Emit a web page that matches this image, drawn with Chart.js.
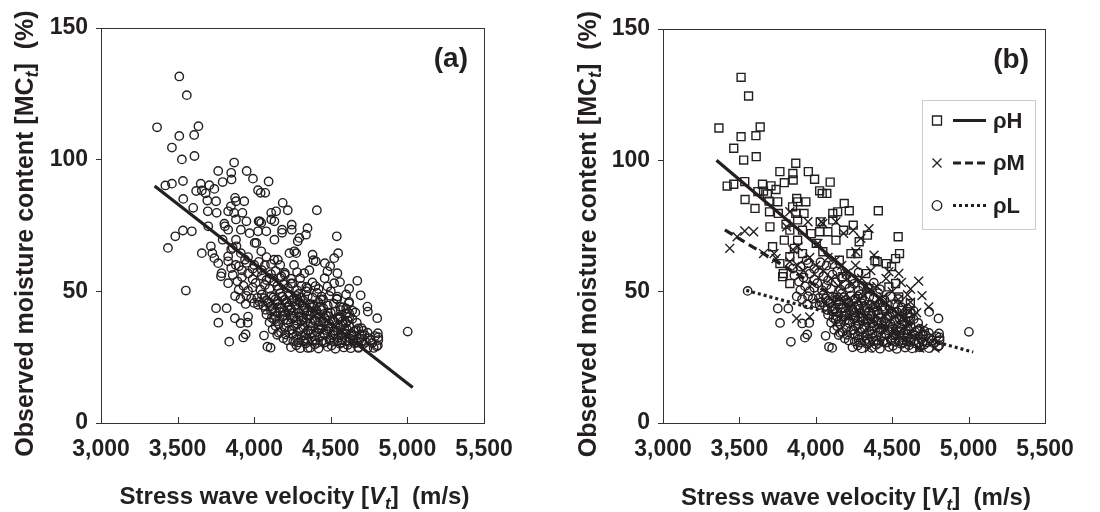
<!DOCTYPE html>
<html>
<head>
<meta charset="utf-8">
<script src="https://cdn.jsdelivr.net/npm/chart.js@4.4.0/dist/chart.umd.min.js"></script>
<style>
body { margin: 0; background: #fff; }
.panel { position: absolute; top: 0; }
</style>
</head>
<body>
<canvas id="chartA" class="panel" width="550" height="512" style="left:0px"></canvas>
<canvas id="chartB" class="panel" width="550" height="512" style="left:550px"></canvas>
<script>
var xTicks = [3000, 3500, 4000, 4500, 5000, 5500];
var yTicks = [0, 50, 100, 150];
var groupNames = ['ρH', 'ρM', 'ρL'];

// [stress wave velocity (m/s), moisture content (%)]
var rhoH = [
    [3511,131.6],[3560,124.5],[3366,112.3],[3511,109],[3608,109.4],[3636,112.7],[3463,104.6],[3528,100.1],
    [3610,101.4],[3420,90.2],[3463,90.9],[3535,91.9],[3537,85.1],[3602,81.7],[3621,88.1],[3651,90.9],
    [3658,88.3],[3683,87.2],[3707,90.3],[3694,84.5],[3740,88.9],[3765,95.7],[3794,91.5],[3850,95],
    [3852,92.5],[3869,98.9],[3951,95.7],[3992,92.8],[4025,88.4],[4042,87.4],[4072,87.4],[4094,91.7],
    [3751,84.2],[3697,80.4],[3755,79.8],[3700,74.7],[3717,67.1],[3765,60.7],[3787,56.9],[3830,53.1],
    [3783,55.7],[3875,85.5],[3881,84.2],[3935,84.2],[3848,82.3],[3869,79.8],[3923,79.8],[3805,75.7],
    [3830,73.4],[3881,77.3],[3913,73.4],[3881,69.6],[3794,69.6],[3913,64.5],[3860,66.5],[3830,63.3],
    [3970,72.1],[4003,68.4],[4029,76.6],[4025,72.8],[4079,72.8],[4111,77.3],[4111,79.8],[4143,80.4],
    [4186,83.6],[4219,80.8],[4132,69.6],[4182,73.4],[4245,75.3],[4284,69],[4338,71.5],[4409,80.8],
    [4387,61.8],[4402,61.4],[4461,60.7],[4496,59.5],[4539,70.9],[4548,64.5],[4522,62.6],[4522,53.1],
    [4543,48],[4619,45.5],[4619,41.7],[4046,65.2],[4154,62],[4230,64.5],[4274,64.5],[4177,55.7],
    [4327,56.9],[4348,51.2],[4478,51.8],[4435,46.8],[4565,42.9]
];
var rhoM = [
    [3437,66.5],[3485,70.9],[3535,73.1],[3593,72.8],[3658,64.5],[3727,64.5],[3740,62.6],[3830,61.4],
    [3809,74.7],[3830,80.4],[3884,67.1],[3949,76.6],[4036,76.6],[4046,76],[4014,68.4],[4132,76.6],
    [4182,72.2],[4245,73.4],[4295,70.3],[4348,74],[4262,65.2],[4381,63.9],[3874,39.8],[3960,40.4],
    [4478,57.6],[4543,56.9],[4673,54],[4695,48.5],[4739,44.2],[4620,51],[4600,48.8],[4560,53.5],
    [4000,60],[4050,58],[4080,63],[4100,55],[4130,62],[4150,52],[4170,60],[4180,48],
    [4200,57],[4220,44],[4240,53],[4260,60],[4280,47],[4300,55],[4320,40],[4340,50],
    [4350,28.5],[4360,58],[4380,45],[4400,52],[4420,37],[4440,48],[4460,55],[4480,42],
    [4500,50],[4520,35],[4540,47],[4560,40],[4580,44],[4600,38],[4620,46],[4640,33],
    [4660,42],[4680,28.5],[4700,36],[4780,28.5],[3880,60],[3920,58],[3960,63],[3850,66]
];
var rhoL = [
    [3554,50.3],[3751,43.6],[3820,43.6],[3766,38.1],[3837,30.9],[3911,37.9],[3957,38.1],[3929,32.5],
    [3944,33.7],[4064,33.2],[4086,29],[4107,28.6],[3899,50.6],[3949,48.3],[3944,45.2],[4025,44.9],
    [4742,42.3],[4803,39.8],[5002,34.7],[4807,34.1],[4807,29.5],
    [4240,28.8],[4275,29.5],[4300,28.4],[4335,30.2],[4365,28.6],[4395,29.8],[4420,28.3],[4455,30.5],
    [4480,28.9],[4505,29.4],[4530,28.2],[4560,30.1],[4585,28.7],[4610,29.6],[4630,28.4],[4655,30.3],
    [4680,28.8],[4710,29.9],[4740,28.5],[4770,30.4],[4800,29.1],[4810,31.5],
    [4255,31.0],[4290,30.6],[4320,31.3],[4350,30.8],[4380,31.2],[4410,30.4],[4445,31.1],[4470,30.7],
    [4495,31.4],[4520,30.9],[4545,31.2],[4570,30.6],[4595,31.0],[4620,30.8],[4645,31.3],[4670,30.5],
    [4700,31.1],[4730,30.7],[4760,31.5],
    [4150,33.5],[4190,32.2],[4215,31.4],[4250,33.8],[4280,31.9],[4310,33.1],[4340,32.0],[4370,33.9],
    [4400,31.6],[4430,32.8],[4460,33.6],[4490,31.8],[4520,33.2],[4550,32.4],[4575,31.5],[4600,33.7],
    [4625,32.1],[4650,33.3],[4690,31.9],[4720,33.4],[4750,32.2],[4790,33.0],[4810,32.6],
    [4160,34.3],[4205,33.6],[4245,35.4],[4275,33.2],[4305,35.6],[4335,34.0],[4365,35.3],[4395,33.4],
    [4425,35.5],[4455,34.1],[4485,35.7],[4515,33.5],[4545,35.0],[4575,34.2],[4605,35.6],[4635,33.8],
    [4665,35.2],[4700,33.6],
    [4120,35.5],[4140,36.8],[4175,34.6],[4200,36.1],[4230,35.2],[4260,36.9],[4290,34.8],[4320,36.3],
    [4350,35.1],[4380,36.7],[4410,34.5],[4440,36.0],[4470,35.3],[4500,36.6],[4530,34.9],[4560,36.2],
    [4590,35.4],[4620,36.8],[4650,34.7],[4680,35.9],[4710,35.0],[4740,34.3],
    [4100,38.2],[4130,39.3],[4160,37.6],[4190,39.1],[4220,38.0],[4250,39.6],[4280,37.4],[4310,38.8],
    [4340,39.7],[4370,37.9],[4400,39.0],[4430,38.3],[4460,39.8],[4490,37.7],[4520,38.6],[4550,39.4],
    [4580,37.5],[4610,38.9],[4640,39.5],[4670,38.1],
    [4115,40.0],[4150,38.6],[4185,40.5],[4215,39.2],[4245,40.8],[4275,38.9],[4305,40.3],[4335,38.4],
    [4365,40.9],[4395,38.7],[4425,40.2],[4455,38.5],[4485,40.6],[4515,39.1],[4545,40.1],[4575,38.6],
    [4620,40.3],
    [4080,41.2],[4110,42.5],[4140,40.6],[4170,42.1],[4200,41.0],[4230,42.8],[4260,40.4],[4290,41.8],
    [4320,42.6],[4350,40.9],[4380,42.2],[4410,41.3],[4440,42.9],[4470,40.7],[4500,41.9],[4530,42.4],
    [4560,40.5],[4600,41.6],[4640,42.7],
    [4075,43.0],[4105,44.2],[4135,42.2],[4165,43.8],[4195,42.6],[4225,44.6],[4255,42.1],[4285,43.5],
    [4315,44.4],[4345,42.3],[4375,44.0],[4405,42.8],[4435,44.3],
    [4060,44.5],[4090,45.7],[4120,43.6],[4150,45.2],[4180,44.0],[4210,45.9],[4240,43.4],[4270,44.8],
    [4300,45.6],[4330,43.9],[4360,45.1],[4390,44.3],[4420,45.8],[4450,43.7],[4480,44.6],[4520,45.3],
    [4560,44.1],[4600,43.5],
    [4035,46.0],[4065,47.4],[4095,45.8],[4125,47.7],[4155,46.3],[4185,47.9],[4215,45.7],[4245,46.6],
    [4275,48.3],[4305,47.6],
    [4020,47.5],[4050,48.8],[4080,46.6],[4110,48.2],[4140,47.0],[4170,49.3],[4200,46.8],[4230,48.5],
    [4260,47.3],[4290,49.0],[4320,46.5],[4350,48.1],[4380,47.7],[4410,49.4],[4450,46.9],[4490,48.3],
    [4540,47.2],
    [3990,51.5],[4010,53.2],[4040,50.6],[4070,52.4],[4100,51.0],[4130,53.6],[4160,50.8],[4190,52.7],
    [4220,51.3],[4250,53.0],[4280,50.4],[4310,52.1],[4340,51.7],[4380,53.4],[4420,50.9],
    [3920,55.4],[3960,56.8],[3990,54.6],[4020,57.2],[4050,55.9],[4080,54.3],[4110,56.5],[4140,57.7],
    [4170,55.1],[4200,56.3],[4240,54.8],[4280,57.3],
    [3900,59.5],[3950,60.8],[3990,58.6],[4030,61.2],[4070,59.9],[4110,60.4],
    [3860,56.2],[3890,53.8],[3930,52.1],[3960,50.2],[3980,47.3],[4000,45.6],[3875,48.2],[3910,47.1],
    [3850,58.8],[3940,62.0]
];

// regression lines, end points
var fitAll = [[3350, 90], [5035, 13.5]];
var fitH = [[3350, 100], [4630, 37]];
var fitM = [[3405, 73.5], [4700, 27.5]];
var fitL = [[3545, 50.5], [5030, 27]];

var FONT = "'Liberation Sans', Arial, sans-serif";
var INK = '#231f20';

function xy(list) {
    return list.map(function (p) { return { x: p[0], y: p[1] }; });
}

function drawRuns(ctx, runs, x, y) {
    var total = 0;
    runs.forEach(function (r) {
        ctx.font = r.font;
        r.w = ctx.measureText(r.text).width;
        total += r.w;
    });
    var cx = x - total / 2;
    ctx.textAlign = 'left';
    ctx.textBaseline = 'alphabetic';
    runs.forEach(function (r) {
        ctx.font = r.font;
        ctx.fillText(r.text, cx, y + (r.dy || 0));
        cx += r.w;
    });
}

function drawMarker(ctx, style, x, y) {
    ctx.beginPath();
    if (style == 'rect') {
        ctx.rect(x - 4.5, y - 4.5, 9, 9);
    } else if (style == 'crossRot') {
        ctx.moveTo(x - 4.5, y - 4.5); ctx.lineTo(x + 4.5, y + 4.5);
        ctx.moveTo(x + 4.5, y - 4.5); ctx.lineTo(x - 4.5, y + 4.5);
    } else {
        ctx.arc(x, y, 4.8, 0, Math.PI * 2);
    }
    ctx.stroke();
}

var decorPlugin = {
    id: 'decor',
    afterDraw: function (chart, args, opts) {
        var ctx = chart.ctx, a = chart.chartArea;
        var xs = chart.scales.x;
        ctx.save();
        ctx.strokeStyle = '#333';
        ctx.lineWidth = 1;
        ctx.strokeRect(Math.round(a.left) + 0.5, Math.round(a.top) + 0.5, Math.round(a.right - a.left), Math.round(a.bottom - a.top));

        // small inward ticks on the x axis
        ctx.beginPath();
        xTicks.slice(1, -1).forEach(function (v) {
            var px = Math.round(xs.getPixelForValue(v)) + 0.5;
            ctx.moveTo(px, a.bottom);
            ctx.lineTo(px, a.bottom - 6);
        });
        ctx.stroke();

        ctx.fillStyle = INK;
        var big = 'bold 24px ' + FONT, sub = 'bold italic 17px ' + FONT;
        // x title
        drawRuns(ctx, [
            { text: 'Stress wave velocity [', font: big },
            { text: 'V', font: 'bold italic 24px ' + FONT },
            { text: 't', font: sub, dy: 5 },
            { text: ']  (m/s)', font: big }
        ], (a.left + a.right) / 2 + 2, opts.xTitleY);

        // y title
        ctx.save();
        ctx.translate(opts.yTitleX, (a.top + a.bottom) / 2 + 8);
        ctx.rotate(-Math.PI / 2);
        drawRuns(ctx, [
            { text: 'Observed moisture content [MC', font: 'bold 25px ' + FONT },
            { text: 't', font: 'bold italic 18px ' + FONT, dy: 5 },
            { text: ']  (%)', font: 'bold 25px ' + FONT }
        ], 0, 0);
        ctx.restore();

        // panel letter
        ctx.font = 'bold 28px ' + FONT;
        ctx.textAlign = 'right';
        ctx.textBaseline = 'middle';
        ctx.fillText(opts.label, a.right - 16, a.top + 31);

        if (opts.legend) {
            var bx = opts.legend.x, by = opts.legend.y;
            ctx.save();
            ctx.strokeStyle = '#999';
            ctx.setLineDash([1, 1]);
            ctx.strokeRect(bx + 0.5, by + 0.5, 113, 129);
            ctx.restore();
            var styles = ['rect', 'crossRot', 'circle'];
            var dashes = [[], [8, 4], [3, 3]];
            for (var i = 0; i < 3; i++) {
                var ry = by + 20.5 + i * 42.5;
                ctx.strokeStyle = INK;
                ctx.lineWidth = 1.3;
                drawMarker(ctx, styles[i], bx + 15, ry);
                ctx.save();
                ctx.lineWidth = 3;
                ctx.setLineDash(dashes[i]);
                ctx.beginPath();
                ctx.moveTo(bx + 31, ry);
                ctx.lineTo(bx + 64, ry);
                ctx.stroke();
                ctx.restore();
                ctx.font = 'bold 22px ' + FONT;
                ctx.textAlign = 'left';
                ctx.textBaseline = 'middle';
                ctx.fillText(groupNames[i], bx + 71, ry + 1);
            }
        }
        ctx.restore();
    }
};

function scaleOptions(yWidth) {
    var tickFont = { family: FONT, size: 23, weight: 'bold' };
    return {
        x: {
            type: 'linear', min: 3000, max: 5500,
            afterBuildTicks: function (s) { s.ticks = xTicks.map(function (v) { return { value: v }; }); },
            ticks: { color: INK, font: tickFont, padding: 13, maxRotation: 0, autoSkip: false },
            grid: { display: false, drawTicks: false },
            border: { display: false },
            afterFit: function (s) { s.height = 89; }
        },
        y: {
            type: 'linear', min: 0, max: 150,
            afterBuildTicks: function (s) { s.ticks = yTicks.map(function (v) { return { value: v }; }); },
            ticks: { color: INK, font: tickFont, padding: 8 },
            grid: { drawOnChartArea: false, tickLength: 5, color: '#333' },
            border: { display: false },
            afterFit: function (s) { s.width = yWidth; }
        }
    };
}

function lineSet(pts, dash) {
    return {
        type: 'line', data: xy(pts), showLine: true, borderColor: INK, borderWidth: 3.2,
        borderDash: dash, pointRadius: 0, fill: false
    };
}

function markerSet(pts, style, radius) {
    return {
        data: xy(pts), pointStyle: style, pointRadius: radius, borderColor: INK,
        borderWidth: 1.4, backgroundColor: 'rgba(0,0,0,0)', showLine: false
    };
}

var allPoints = rhoH.concat(rhoM, rhoL);

new Chart(document.getElementById('chartA'), {
    type: 'scatter',
    data: {
        datasets: [
            lineSet(fitAll, []),
            markerSet(allPoints, 'circle', 4.2)
        ]
    },
    options: {
        responsive: false, animation: false, devicePixelRatio: 1,
        layout: { padding: { top: 28, right: 66, left: 0, bottom: 0 } },
        plugins: {
            legend: { display: false }, tooltip: { enabled: false },
            decor: { label: '(a)', xTitleY: 504, yTitleX: 33 }
        },
        scales: scaleOptions(101)
    },
    plugins: [decorPlugin]
});

new Chart(document.getElementById('chartB'), {
    type: 'scatter',
    data: {
        datasets: [
            lineSet(fitH, []),
            lineSet(fitM, [9, 5]),
            lineSet(fitL, [3, 3]),
            markerSet(rhoM, 'crossRot', 6.3),
            markerSet(rhoL, 'circle', 4.2),
            markerSet(rhoH, 'rect', 5.6)
        ]
    },
    options: {
        responsive: false, animation: false, devicePixelRatio: 1,
        layout: { padding: { top: 29, right: 55, left: 0, bottom: 0 } },
        plugins: {
            legend: { display: false }, tooltip: { enabled: false },
            decor: { label: '(b)', xTitleY: 505, yTitleX: 46, legend: { x: 372, y: 100 } }
        },
        scales: scaleOptions(113)
    },
    plugins: [decorPlugin]
});
</script>
</body>
</html>
